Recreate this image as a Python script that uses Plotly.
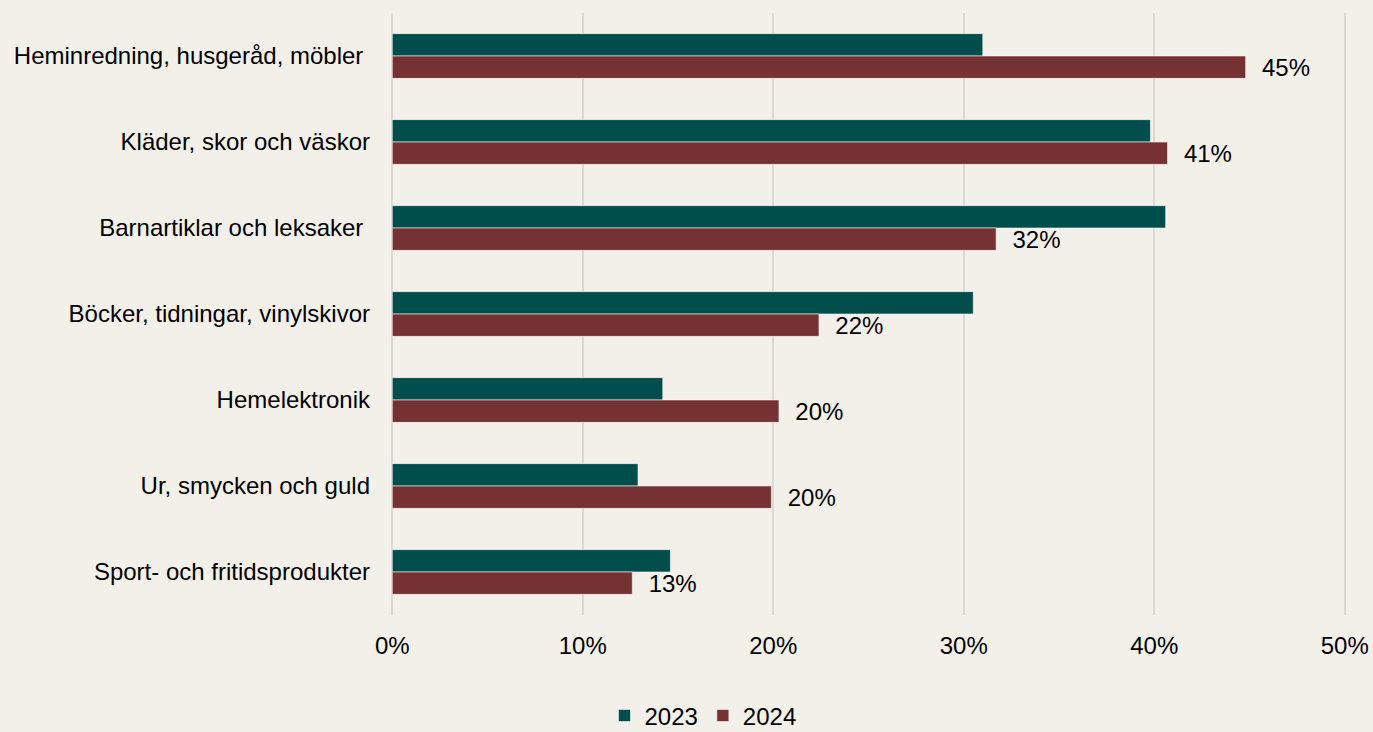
import plotly.graph_objects as go

categories = [
    "Heminredning, husgeråd, möbler ",
    "Kläder, skor och väskor",
    "Barnartiklar och leksaker ",
    "Böcker, tidningar, vinylskivor",
    "Hemelektronik",
    "Ur, smycken och guld",
    "Sport- och fritidsprodukter",
]
values_2023 = [0.31, 0.398, 0.406, 0.305, 0.142, 0.129, 0.146]
values_2024 = [0.448, 0.407, 0.317, 0.224, 0.203, 0.199, 0.126]
labels_2024 = ["45%", "41%", "32%", "22%", "20%", "20%", "13%"]
xticks = [0, 0.1, 0.2, 0.3, 0.4, 0.5]
xtick_labels = ["0%", "10%", "20%", "30%", "40%", "50%"]

bg = "#f3efe9"
grid = "#dcd8d3"
font = "Liberation Sans, Arial, sans-serif"
fs = 24

fig = go.Figure()
fig.add_trace(go.Bar(
    y=categories, x=values_2023, name="2023", orientation="h",
    marker=dict(color="#004e4c", line=dict(color="rgba(255,255,255,0.55)", width=1)),
    hoverinfo="skip",
))
fig.add_trace(go.Bar(
    y=categories, x=values_2024, name="2024", orientation="h",
    marker=dict(color="#763232", line=dict(color="rgba(255,255,255,0.55)", width=1)),
    text=["  " + t for t in labels_2024], textposition="outside", constraintext="none",
    textfont=dict(size=fs, color="#000000", family=font),
    cliponaxis=False, hoverinfo="skip",
))

fig.update_layout(
    width=1373, height=732,
    paper_bgcolor=bg, plot_bgcolor=bg,
    margin=dict(l=390, r=26, t=13, b=117, autoexpand=False),
    barmode="group", bargap=0.48, bargroupgap=0,
    font=dict(family=font, size=fs, color="#000000"),
    showlegend=True,
    legend=dict(orientation="h", xref="container", x=0.512, xanchor="center",
                yref="container", y=0.022, yanchor="middle",
                font=dict(size=fs), traceorder="normal",
                bgcolor="rgba(0,0,0,0)"),
)
fig.update_xaxes(
    range=[-0.0012, 0.5012], tickvals=xticks, ticktext=xtick_labels,
    showgrid=True, gridcolor=grid, gridwidth=2,
    zeroline=True, zerolinecolor=grid, zerolinewidth=2,
    showline=False, ticks="", ticklabelstandoff=14,
    tickfont=dict(size=fs), automargin=False,
)
fig.update_yaxes(
    autorange="reversed", showgrid=False, zeroline=False, showline=False,
    ticks="", ticklabelstandoff=19, tickfont=dict(size=fs), automargin=False,
)

fig.write_html("out.html", config={"displayModeBar": False},
               post_script="document.body.style.margin='0';document.body.style.background='#f3efe9';")
